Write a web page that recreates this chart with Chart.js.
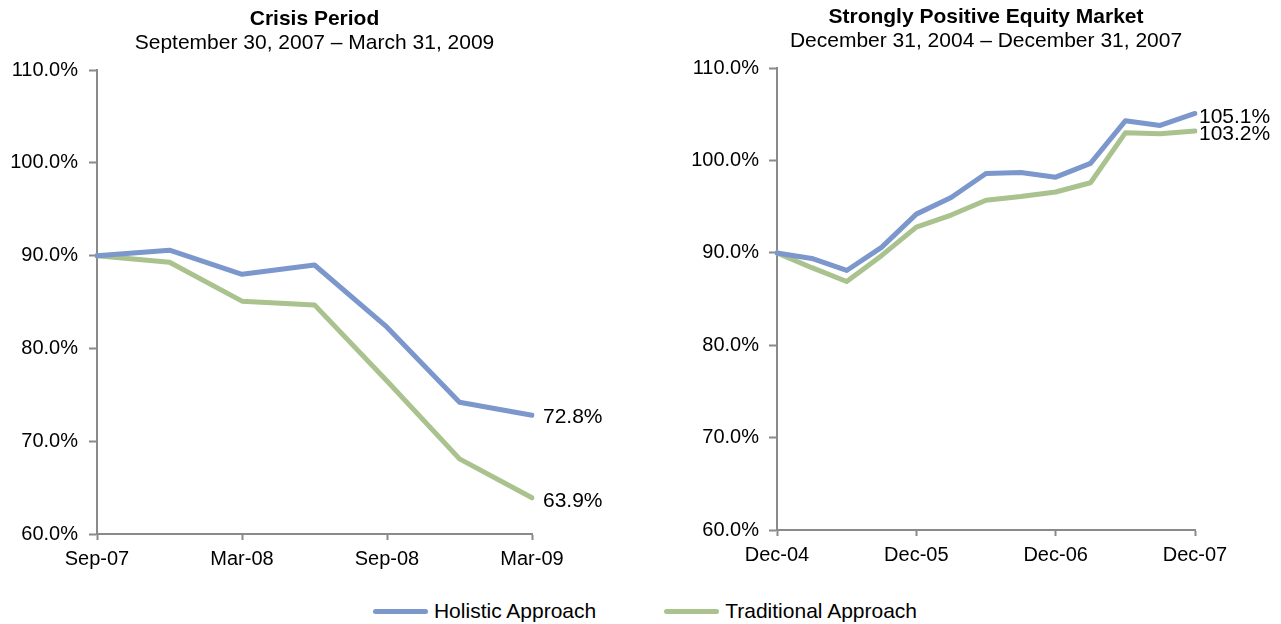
<!DOCTYPE html>
<html>
<head>
<meta charset="utf-8">
<script src="https://cdn.jsdelivr.net/npm/chart.js@4.4.1/dist/chart.umd.min.js"></script>
<style>
  html, body { margin: 0; padding: 0; background: #fff; }
  body { width: 1281px; height: 624px; position: relative; overflow: hidden;
         font-family: "Liberation Sans", Arial, sans-serif; }
  .panel { position: absolute; top: 0; height: 580px; }
  #pLeft  { left: 0;     width: 640px; }
  #pRight { left: 640px; width: 641px; }
  #legend { position: absolute; left: 0; top: 598px; width: 1281px; height: 26px;
            display: flex; justify-content: center; align-items: center;
            padding-left: 9px; box-sizing: border-box; font-size: 21px; color: #000; }
  .item { display: flex; align-items: center; }
  .item + .item { margin-left: 68px; }
  .swatch { width: 55px; height: 5px; border-radius: 3px; margin-right: 6px; }
</style>
</head>
<body>
<div class="panel" id="pLeft"><canvas id="chart-crisis"></canvas></div>
<div class="panel" id="pRight"><canvas id="chart-bull"></canvas></div>
<div id="legend"></div>

<script>
/* ── data ── */
const seriesNames = ['Holistic Approach', 'Traditional Approach'];

const crisisQuarters    = ['Sep-07','Dec-07','Mar-08','Jun-08','Sep-08','Dec-08','Mar-09'];
const crisisHolistic    = [90.0, 90.6, 88.0, 89.0, 82.3, 74.2, 72.8];
const crisisTraditional = [90.0, 89.3, 85.1, 84.7, 76.5, 68.1, 63.9];

const bullQuarters    = ['Dec-04','Mar-05','Jun-05','Sep-05','Dec-05','Mar-06','Jun-06',
                         'Sep-06','Dec-06','Mar-07','Jun-07','Sep-07','Dec-07'];
const bullHolistic    = [90.0, 89.4, 88.1, 90.6, 94.2, 96.0, 98.6, 98.7, 98.2, 99.7, 104.3, 103.8, 105.1];
const bullTraditional = [90.0, 88.4, 86.9, 89.7, 92.8, 94.1, 95.7, 96.1, 96.6, 97.6, 103.0, 102.9, 103.2];

const yMin = 60, yMax = 110, yStep = 10;

/* ── styles ── */
const C = {
  blue : '#7b97cc',
  green: '#a9c28e',
  axis : '#8a8a8a',
  text : '#000',
};
const FONT = '"Liberation Sans", Arial, sans-serif';

/* 마지막 점 옆 값 라벨 */
const endLabels = {
  id: 'endLabels',
  afterDatasetsDraw(chart, args, opts) {
    const ctx = chart.ctx;
    ctx.save();
    ctx.font = `21px ${FONT}`;
    ctx.fillStyle = C.text;
    ctx.textAlign = 'left';
    ctx.textBaseline = 'middle';
    chart.data.datasets.forEach((ds, i) => {
      const meta = chart.getDatasetMeta(i);
      const pt = meta.data[meta.data.length - 1];
      const v = ds.data[ds.data.length - 1];
      ctx.fillText(v.toFixed(1) + '%', pt.x + opts.dx, pt.y + opts.dy[i]);
    });
    ctx.restore();
  }
};

function makeChart(id, cfg) {
  const step = cfg.tickStep;
  return new Chart(document.getElementById(id), {
    type: 'line',
    data: {
      labels: cfg.labels,
      datasets: [
        { label: seriesNames[0], data: cfg.holistic,    borderColor: C.blue },
        { label: seriesNames[1], data: cfg.traditional, borderColor: C.green },
      ].map(d => Object.assign(d, {
        borderWidth: 5, pointRadius: 0, tension: 0, fill: false,
        borderCapStyle: 'round', borderJoinStyle: 'round',
      })),
    },
    options: {
      responsive: true,
      maintainAspectRatio: false,
      animation: false,
      layout: { padding: { left: 0, right: cfg.padRight, top: 0, bottom: cfg.padBottom } },
      plugins: {
        legend : { display: false },
        tooltip: { enabled: false },
        title: {
          display: true, text: cfg.title, fullSize: false, color: C.text,
          font: { family: FONT, size: 21, weight: 'bold', lineHeight: 1.1 },
          padding: { top: cfg.titleTop, bottom: 0 },
        },
        subtitle: {
          display: true, text: cfg.subtitle, fullSize: false, color: C.text,
          font: { family: FONT, size: 21, lineHeight: 1.1 },
          padding: { top: 1, bottom: cfg.subBottom },
        },
        endLabels: { dx: cfg.labelDx, dy: cfg.labelDy },
      },
      scales: {
        x: {
          grid: {
            drawOnChartArea: false, drawTicks: true, tickLength: 6, tickWidth: 2,
            tickColor: c => (c.index % step === 0 ? C.axis : 'rgba(0,0,0,0)'),
          },
          border: { display: true, color: C.axis, width: 2 },
          ticks: {
            autoSkip: false, maxRotation: 0, padding: 7, color: C.text,
            font: { family: FONT, size: 20 },
            callback: function (v, i) { return i % step === 0 ? this.getLabelForValue(v) : ''; },
          },
        },
        y: {
          min: yMin, max: yMax,
          afterFit: s => { s.width = cfg.axisWidth; },
          grid: { drawOnChartArea: false, drawTicks: true, tickLength: 8, tickWidth: 2, tickColor: C.axis },
          border: { display: true, color: C.axis, width: 2 },
          ticks: {
            stepSize: yStep, padding: cfg.yPad, color: C.text,
            font: { family: FONT, size: 20 },
            callback: v => v.toFixed(1) + '%',
          },
        },
      },
    },
    plugins: [endLabels],
  });
}

makeChart('chart-crisis', {
  labels: crisisQuarters, holistic: crisisHolistic, traditional: crisisTraditional,
  title: 'Crisis Period', subtitle: 'September 30, 2007 – March 31, 2009',
  tickStep: 2, axisWidth: 97, padRight: 108, padBottom: 2,
  titleTop: 8, subBottom: 15, yPad: 11, labelDx: 11, labelDy: [2, 3],
});

makeChart('chart-bull', {
  labels: bullQuarters, holistic: bullHolistic, traditional: bullTraditional,
  title: 'Strongly Positive Equity Market', subtitle: 'December 31, 2004 – December 31, 2007',
  tickStep: 4, axisWidth: 137, padRight: 86, padBottom: 6,
  titleTop: 6, subBottom: 15, yPad: 10, labelDx: 4, labelDy: [4, 3],
});

/* 공통 범례 */
const legendEl = document.getElementById('legend');
[C.blue, C.green].forEach((col, i) => {
  const item = document.createElement('div');
  item.className = 'item';
  item.innerHTML = `<span class="swatch" style="background:${col}"></span><span>${seriesNames[i]}</span>`;
  legendEl.appendChild(item);
});
</script>
</body>
</html>
